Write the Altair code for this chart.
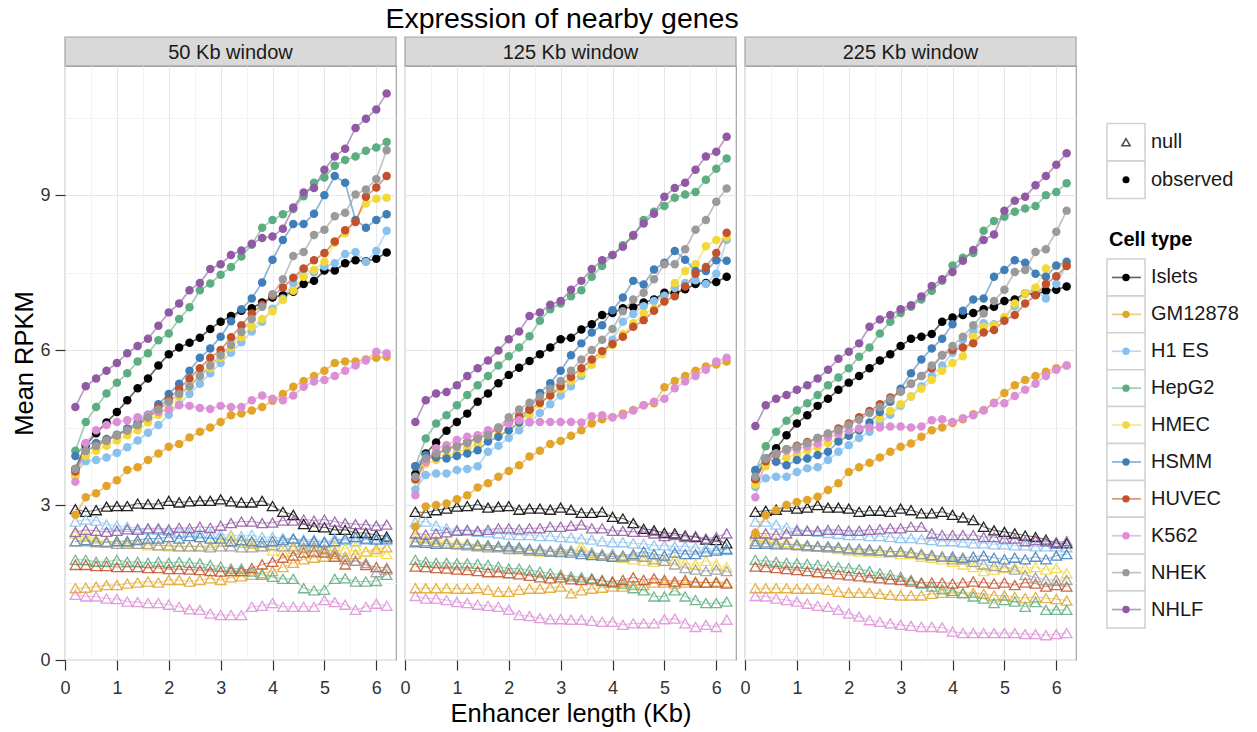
import altair as alt
import pandas as pd

FONT = "Liberation Sans"

X_KB = [0.2, 0.4, 0.6, 0.8, 1.0, 1.2, 1.4, 1.6, 1.8, 2.0, 2.2, 2.4, 2.6, 2.8, 3.0, 3.2,
        3.4, 3.6, 3.8, 4.0, 4.2, 4.4, 4.6, 4.8, 5.0, 5.2, 5.4, 5.6, 5.8, 6.0, 6.2]
CELLS = ["Islets", "GM12878", "H1 ES", "HepG2", "HMEC", "HSMM", "HUVEC", "K562", "NHEK", "NHLF"]
COLORS = ["#000000", "#E2A52A", "#88C0EE", "#5DAD82", "#F3D838", "#3F7EB8", "#C1522B",
          "#DC8FD6", "#9A9A9A", "#9158A3"]
PANELS = ["50 Kb window", "125 Kb window", "225 Kb window"]
KINDS = ["null", "observed"]
X_TICKS = [0, 0.5, 1, 1.5, 2, 2.5, 3, 3.5, 4, 4.5, 5, 5.5, 6]
Y_TICKS = [0, 1.5, 3, 4.5, 6, 7.5, 9, 10.5]

# ---------------- 50 Kb window ----------------
OBS_50 = {
    "Islets": [3.7, 4.16, 4.39, 4.6, 4.8, 5.03, 5.26, 5.45, 5.7, 5.92, 6.05, 6.14, 6.24, 6.41, 6.55, 6.66, 6.76, 6.81, 6.92, 7.02, 7.06, 7.13, 7.28, 7.34, 7.54, 7.54, 7.68, 7.74, 7.72, 7.77, 7.89],
    "GM12878": [2.81, 3.15, 3.23, 3.37, 3.48, 3.68, 3.73, 3.87, 4.0, 4.13, 4.18, 4.31, 4.42, 4.5, 4.61, 4.74, 4.77, 4.83, 4.90, 5.02, 5.15, 5.29, 5.4, 5.5, 5.6, 5.75, 5.78, 5.78, 5.82, 5.85, 5.87],
    "H1 ES": [3.6, 3.85, 3.87, 3.92, 4.01, 4.12, 4.25, 4.4, 4.55, 4.75, 4.95, 5.15, 5.35, 5.55, 5.75, 5.95, 6.15, 6.36, 6.55, 6.8, 7.0, 7.3, 7.56, 7.5, 7.62, 7.68, 7.86, 7.90, 7.71, 7.92, 8.31],
    "HepG2": [4.05, 4.61, 4.9, 5.16, 5.37, 5.55, 5.78, 5.94, 6.19, 6.32, 6.60, 6.83, 7.16, 7.29, 7.46, 7.61, 7.81, 8.04, 8.37, 8.52, 8.63, 8.73, 8.98, 9.24, 9.34, 9.57, 9.68, 9.75, 9.86, 9.92, 10.03],
    "HMEC": [3.55, 3.95, 4.05, 4.15, 4.25, 4.35, 4.45, 4.6, 4.75, 4.9, 5.1, 5.3, 5.5, 5.65, 5.85, 6.05, 6.25, 6.45, 6.6, 6.75, 6.97, 7.15, 7.42, 7.55, 7.71, 8.08, 8.26, 8.52, 8.84, 8.93, 8.95],
    "HSMM": [3.95, 4.19, 4.2, 4.28, 4.36, 4.48, 4.6, 4.75, 4.95, 5.15, 5.35, 5.6, 5.85, 6.03, 6.26, 6.56, 6.79, 7.00, 7.31, 7.75, 8.13, 8.44, 8.44, 8.64, 9.00, 9.37, 9.24, 8.52, 8.37, 8.52, 8.63],
    "HUVEC": [3.65, 4.05, 4.15, 4.25, 4.35, 4.45, 4.55, 4.7, 4.9, 5.05, 5.25, 5.45, 5.65, 5.85, 6.0, 6.25, 6.48, 6.71, 6.88, 7.05, 7.21, 7.4, 7.58, 7.74, 7.88, 8.10, 8.32, 8.48, 8.97, 9.15, 9.37],
    "K562": [3.45, 4.2, 4.45, 4.55, 4.61, 4.64, 4.7, 4.74, 4.8, 4.85, 4.93, 4.92, 4.88, 4.86, 4.92, 4.9, 4.9, 5.03, 5.12, 5.06, 5.03, 5.12, 5.29, 5.39, 5.42, 5.5, 5.6, 5.7, 5.8, 5.97, 5.94],
    "NHEK": [3.7, 4.05, 4.15, 4.25, 4.35, 4.45, 4.55, 4.7, 4.85, 5.0, 5.15, 5.3, 5.5, 5.7, 5.9, 6.1, 6.35, 6.6, 6.84, 7.08, 7.37, 7.82, 7.90, 8.23, 8.33, 8.59, 8.66, 9.01, 9.11, 9.31, 9.87],
    "NHLF": [4.9, 5.3, 5.45, 5.6, 5.75, 5.94, 6.08, 6.22, 6.47, 6.73, 6.90, 7.16, 7.30, 7.57, 7.66, 7.84, 7.93, 8.06, 8.17, 8.2, 8.35, 8.76, 9.05, 9.14, 9.49, 9.75, 9.90, 10.30, 10.48, 10.66, 10.97],
}
NULL_50 = {
    "Islets": [2.92, 2.87, 2.9, 2.97, 2.98, 2.98, 3.03, 3.02, 3.02, 3.08, 3.05, 3.07, 3.08, 3.08, 3.11, 3.07, 3.05, 3.05, 3.08, 2.98, 2.87, 2.81, 2.63, 2.58, 2.57, 2.52, 2.52, 2.46, 2.46, 2.42, 2.39],
    "GM12878": [1.39, 1.4, 1.42, 1.45, 1.45, 1.48, 1.5, 1.52, 1.5, 1.55, 1.55, 1.52, 1.55, 1.58, 1.55, 1.6, 1.62, 1.65, 1.68, 1.72, 1.8, 1.88, 1.95, 1.98, 2.0, 2.05, 2.0, 2.05, 2.1, 2.15, 2.18],
    "H1 ES": [2.68, 2.72, 2.7, 2.62, 2.6, 2.58, 2.55, 2.53, 2.52, 2.5, 2.48, 2.47, 2.45, 2.45, 2.43, 2.42, 2.4, 2.42, 2.38, 2.38, 2.36, 2.35, 2.33, 2.33, 2.3, 2.35, 2.32, 2.3, 2.33, 2.35, 2.32],
    "HepG2": [1.94, 1.94, 1.90, 1.90, 1.94, 1.90, 1.90, 1.88, 1.90, 1.88, 1.90, 1.88, 1.87, 1.84, 1.81, 1.77, 1.77, 1.71, 1.65, 1.61, 1.57, 1.57, 1.39, 1.35, 1.36, 1.57, 1.58, 1.52, 1.52, 1.53, 1.65],
    "HMEC": [2.45, 2.4, 2.35, 2.3, 2.3, 2.28, 2.25, 2.22, 2.22, 2.2, 2.2, 2.2, 2.2, 2.22, 2.3, 2.4, 2.3, 2.25, 2.2, 2.12, 2.1, 2.15, 2.15, 2.2, 2.15, 2.2, 2.15, 2.2, 2.1, 2.1, 2.05],
    "HSMM": [2.3, 2.32, 2.3, 2.28, 2.3, 2.3, 2.32, 2.35, 2.35, 2.38, 2.35, 2.4, 2.38, 2.35, 2.35, 2.3, 2.32, 2.3, 2.28, 2.3, 2.32, 2.35, 2.3, 2.3, 2.28, 2.3, 2.35, 2.38, 2.35, 2.33, 2.35],
    "HUVEC": [1.84, 1.84, 1.82, 1.82, 1.80, 1.80, 1.80, 1.78, 1.78, 1.76, 1.76, 1.75, 1.74, 1.72, 1.71, 1.72, 1.72, 1.78, 1.85, 1.9, 1.98, 2.02, 2.08, 2.1, 2.08, 2.0, 1.85, 1.92, 1.84, 1.8, 1.78],
    "K562": [1.26, 1.23, 1.23, 1.19, 1.18, 1.13, 1.12, 1.10, 1.10, 1.07, 1.03, 0.98, 0.97, 0.90, 0.87, 0.87, 0.87, 1.03, 1.05, 1.10, 1.03, 1.03, 1.03, 1.03, 1.16, 1.12, 1.07, 0.97, 1.03, 1.09, 1.05],
    "NHEK": [2.3, 2.3, 2.28, 2.28, 2.25, 2.25, 2.25, 2.25, 2.22, 2.22, 2.2, 2.2, 2.2, 2.18, 2.2, 2.2, 2.18, 2.18, 2.2, 2.22, 2.2, 2.2, 2.18, 2.2, 2.15, 2.1, 1.95, 1.92, 1.88, 1.7, 1.75],
    "NHLF": [2.48, 2.52, 2.5, 2.48, 2.5, 2.53, 2.52, 2.55, 2.55, 2.53, 2.56, 2.55, 2.58, 2.56, 2.6, 2.65, 2.68, 2.68, 2.65, 2.66, 2.7, 2.7, 2.72, 2.7, 2.72, 2.68, 2.65, 2.63, 2.62, 2.6, 2.62],
}

# ---------------- 125 Kb window ----------------
OBS_125 = {
    "Islets": [3.6, 4.0, 4.21, 4.44, 4.61, 4.77, 5.0, 5.16, 5.36, 5.52, 5.66, 5.79, 5.92, 6.05, 6.21, 6.24, 6.40, 6.50, 6.68, 6.72, 6.81, 6.83, 6.92, 6.98, 7.11, 7.1, 7.18, 7.28, 7.30, 7.32, 7.42],
    "GM12878": [2.58, 2.97, 3.0, 3.03, 3.11, 3.19, 3.34, 3.42, 3.55, 3.66, 3.77, 3.94, 4.05, 4.18, 4.24, 4.34, 4.45, 4.58, 4.66, 4.70, 4.77, 4.84, 4.93, 4.97, 5.28, 5.4, 5.5, 5.6, 5.68, 5.72, 5.78],
    "H1 ES": [3.3, 3.58, 3.61, 3.61, 3.68, 3.7, 3.75, 4.03, 4.15, 4.3, 4.45, 4.6, 4.78, 4.95, 5.12, 5.3, 5.5, 5.72, 5.95, 6.2, 6.55, 6.7, 6.85, 6.95, 7.05, 7.2, 7.3, 7.35, 7.28, 7.48, 8.13],
    "HepG2": [3.75, 4.29, 4.58, 4.74, 4.93, 5.13, 5.32, 5.5, 5.7, 5.88, 6.05, 6.27, 6.57, 6.79, 6.9, 7.04, 7.16, 7.42, 7.63, 7.84, 8.03, 8.21, 8.52, 8.68, 8.79, 8.95, 9.01, 9.06, 9.30, 9.51, 9.71],
    "HMEC": [3.48, 3.8, 3.87, 3.95, 4.02, 4.1, 4.18, 4.26, 4.35, 4.45, 4.58, 4.75, 4.95, 5.12, 5.25, 5.4, 5.55, 5.72, 5.92, 6.1, 6.31, 6.52, 6.71, 6.8, 6.95, 7.30, 7.53, 7.66, 8.01, 8.13, 8.19],
    "HSMM": [3.75, 3.97, 3.92, 3.9, 3.95, 4.0, 4.06, 4.23, 4.32, 4.45, 4.6, 4.85, 5.17, 5.36, 5.6, 5.9, 6.13, 6.34, 6.48, 6.77, 7.02, 7.34, 7.27, 7.56, 7.69, 7.92, 7.75, 7.53, 7.53, 7.74, 7.73],
    "HUVEC": [3.5, 3.85, 3.98, 4.08, 4.15, 4.22, 4.3, 4.38, 4.48, 4.6, 4.72, 4.85, 4.98, 5.12, 5.3, 5.48, 5.65, 5.82, 5.98, 6.12, 6.26, 6.45, 6.58, 6.76, 6.94, 7.04, 7.23, 7.48, 7.61, 7.88, 8.27],
    "K562": [3.19, 3.85, 4.10, 4.16, 4.26, 4.32, 4.35, 4.45, 4.5, 4.58, 4.64, 4.61, 4.61, 4.61, 4.61, 4.61, 4.6, 4.72, 4.74, 4.70, 4.74, 4.83, 4.93, 5.0, 5.06, 5.26, 5.39, 5.5, 5.62, 5.78, 5.85],
    "NHEK": [3.55, 3.9, 4.0, 4.08, 4.13, 4.2, 4.28, 4.35, 4.5, 4.7, 4.85, 4.98, 5.1, 5.25, 5.4, 5.6, 5.82, 6.0, 6.2, 6.41, 6.75, 6.98, 7.11, 7.37, 7.66, 7.66, 7.95, 8.33, 8.52, 8.87, 9.13],
    "NHLF": [4.61, 5.03, 5.16, 5.19, 5.32, 5.5, 5.65, 5.8, 5.99, 6.21, 6.36, 6.66, 6.73, 6.88, 6.95, 7.17, 7.34, 7.57, 7.74, 7.84, 8.0, 8.23, 8.45, 8.64, 8.97, 9.14, 9.24, 9.49, 9.75, 9.84, 10.13],
}
NULL_125 = {
    "Islets": [2.87, 2.85, 2.90, 2.93, 2.97, 2.98, 3.01, 2.95, 2.97, 2.98, 2.91, 2.93, 2.93, 2.91, 2.95, 2.91, 2.85, 2.85, 2.87, 2.77, 2.74, 2.65, 2.54, 2.51, 2.46, 2.45, 2.41, 2.38, 2.33, 2.32, 2.26],
    "GM12878": [1.39, 1.39, 1.39, 1.39, 1.38, 1.38, 1.39, 1.36, 1.32, 1.32, 1.36, 1.38, 1.38, 1.4, 1.42, 1.29, 1.35, 1.38, 1.4, 1.42, 1.42, 1.45, 1.45, 1.5, 1.5, 1.48, 1.5, 1.52, 1.5, 1.52, 1.5],
    "H1 ES": [2.67, 2.68, 2.6, 2.55, 2.52, 2.5, 2.48, 2.47, 2.45, 2.43, 2.42, 2.42, 2.4, 2.4, 2.38, 2.37, 2.35, 2.33, 2.3, 2.28, 2.28, 2.26, 2.25, 2.22, 2.22, 2.2, 2.2, 2.18, 2.16, 2.15, 2.13],
    "HepG2": [1.94, 1.90, 1.88, 1.88, 1.87, 1.87, 1.86, 1.84, 1.81, 1.77, 1.77, 1.74, 1.71, 1.68, 1.65, 1.62, 1.6, 1.58, 1.55, 1.5, 1.48, 1.39, 1.35, 1.23, 1.23, 1.35, 1.23, 1.16, 1.10, 1.10, 1.13],
    "HMEC": [2.38, 2.35, 2.32, 2.3, 2.28, 2.26, 2.24, 2.22, 2.2, 2.18, 2.15, 2.12, 2.1, 2.1, 2.08, 2.12, 2.2, 2.05, 2.02, 2.0, 1.98, 1.95, 1.92, 1.9, 1.92, 1.95, 1.88, 1.85, 1.92, 1.85, 1.8],
    "HSMM": [2.28, 2.27, 2.25, 2.25, 2.24, 2.24, 2.22, 2.22, 2.2, 2.2, 2.18, 2.15, 2.12, 2.1, 2.1, 2.08, 2.05, 2.03, 2.02, 2.0, 2.02, 2.05, 2.1, 2.05, 2.02, 2.08, 2.05, 2.05, 2.1, 2.12, 2.15],
    "HUVEC": [1.81, 1.8, 1.78, 1.77, 1.75, 1.74, 1.72, 1.7, 1.7, 1.68, 1.66, 1.63, 1.6, 1.58, 1.6, 1.56, 1.55, 1.56, 1.53, 1.52, 1.55, 1.6, 1.55, 1.58, 1.55, 1.52, 1.55, 1.5, 1.5, 1.5, 1.48],
    "K562": [1.24, 1.19, 1.19, 1.16, 1.12, 1.10, 1.07, 1.05, 1.03, 0.97, 0.87, 0.85, 0.81, 0.79, 0.79, 0.78, 0.78, 0.76, 0.74, 0.74, 0.68, 0.71, 0.71, 0.71, 0.79, 0.80, 0.71, 0.64, 0.68, 0.64, 0.78],
    "NHEK": [2.3, 2.3, 2.28, 2.26, 2.25, 2.22, 2.2, 2.18, 2.18, 2.15, 2.15, 2.12, 2.15, 2.12, 2.15, 2.12, 2.1, 2.08, 2.05, 2.05, 2.0, 2.02, 2.0, 1.95, 1.92, 1.85, 1.78, 1.75, 1.72, 1.75, 1.72],
    "NHLF": [2.45, 2.43, 2.45, 2.47, 2.5, 2.52, 2.5, 2.52, 2.55, 2.55, 2.53, 2.55, 2.55, 2.58, 2.58, 2.6, 2.62, 2.55, 2.55, 2.5, 2.5, 2.48, 2.48, 2.45, 2.4, 2.42, 2.38, 2.4, 2.35, 2.38, 2.45],
}

# ---------------- 225 Kb window ----------------
OBS_225 = {
    "Islets": [3.5, 3.9, 4.10, 4.35, 4.58, 4.74, 4.92, 5.06, 5.23, 5.37, 5.5, 5.65, 5.8, 5.92, 6.08, 6.22, 6.26, 6.31, 6.55, 6.63, 6.68, 6.72, 6.79, 6.84, 6.95, 6.98, 7.10, 7.07, 7.15, 7.17, 7.23],
    "GM12878": [2.46, 2.8, 2.90, 3.0, 3.06, 3.1, 3.16, 3.29, 3.42, 3.64, 3.73, 3.82, 3.92, 4.03, 4.13, 4.19, 4.32, 4.45, 4.50, 4.59, 4.66, 4.76, 4.84, 4.98, 5.17, 5.32, 5.42, 5.5, 5.58, 5.65, 5.7],
    "H1 ES": [3.35, 3.52, 3.55, 3.55, 3.64, 3.71, 3.73, 3.87, 4.03, 4.16, 4.3, 4.42, 4.58, 4.75, 4.92, 5.1, 5.3, 5.5, 5.7, 5.95, 6.2, 6.38, 6.52, 6.5, 6.62, 6.85, 7.1, 7.15, 7.0, 7.28, 7.64],
    "HepG2": [3.66, 4.14, 4.42, 4.63, 4.83, 4.97, 5.13, 5.32, 5.47, 5.65, 5.87, 6.05, 6.32, 6.55, 6.72, 6.84, 6.98, 7.15, 7.34, 7.64, 7.79, 7.88, 8.31, 8.50, 8.58, 8.68, 8.74, 8.79, 9.00, 9.06, 9.23],
    "HMEC": [3.4, 3.75, 3.85, 3.92, 3.98, 4.05, 4.12, 4.2, 4.28, 4.35, 4.45, 4.55, 4.68, 4.82, 4.95, 5.1, 5.25, 5.42, 5.6, 5.75, 5.88, 6.26, 6.45, 6.48, 6.64, 6.9, 7.10, 7.21, 7.58, 7.63, 7.66],
    "HSMM": [3.68, 3.9, 3.84, 3.77, 3.87, 3.9, 3.97, 4.03, 4.23, 4.34, 4.45, 4.6, 4.8, 5.0, 5.25, 5.55, 5.82, 6.03, 6.22, 6.50, 6.76, 6.98, 7.0, 7.42, 7.55, 7.74, 7.69, 7.48, 7.42, 7.64, 7.71],
    "HUVEC": [3.5, 3.85, 3.98, 4.08, 4.15, 4.22, 4.3, 4.38, 4.48, 4.58, 4.7, 4.82, 4.95, 5.08, 5.2, 5.35, 5.5, 5.65, 5.9, 6.0, 6.05, 6.13, 6.34, 6.39, 6.57, 6.68, 6.90, 7.06, 7.28, 7.43, 7.63],
    "K562": [3.15, 3.9, 4.0, 4.05, 4.08, 4.14, 4.19, 4.31, 4.38, 4.45, 4.48, 4.5, 4.5, 4.52, 4.52, 4.5, 4.52, 4.64, 4.66, 4.61, 4.68, 4.74, 4.83, 4.97, 4.97, 5.11, 5.23, 5.35, 5.5, 5.62, 5.7],
    "NHEK": [3.55, 3.9, 4.0, 4.08, 4.13, 4.2, 4.3, 4.38, 4.45, 4.55, 4.65, 4.78, 4.9, 5.05, 5.2, 5.35, 5.5, 5.7, 5.9, 6.08, 6.26, 6.48, 6.71, 6.95, 7.17, 7.51, 7.55, 7.9, 7.95, 8.29, 8.70],
    "NHLF": [4.53, 4.93, 5.06, 5.13, 5.23, 5.32, 5.45, 5.62, 5.83, 5.97, 6.13, 6.45, 6.59, 6.68, 6.79, 6.87, 7.04, 7.24, 7.37, 7.51, 7.73, 7.94, 8.13, 8.24, 8.70, 8.89, 8.97, 9.19, 9.37, 9.59, 9.81],
}
NULL_225 = {
    "Islets": [2.87, 2.89, 2.91, 2.97, 2.93, 2.95, 3.00, 2.95, 2.95, 2.93, 2.87, 2.89, 2.89, 2.87, 2.93, 2.90, 2.84, 2.84, 2.87, 2.81, 2.76, 2.71, 2.58, 2.51, 2.48, 2.45, 2.41, 2.38, 2.33, 2.26, 2.26],
    "GM12878": [1.39, 1.39, 1.39, 1.39, 1.38, 1.38, 1.38, 1.36, 1.32, 1.3, 1.3, 1.3, 1.28, 1.26, 1.25, 1.25, 1.25, 1.28, 1.3, 1.3, 1.3, 1.3, 1.28, 1.25, 1.25, 1.22, 1.2, 1.22, 1.2, 1.18, 1.15],
    "H1 ES": [2.68, 2.68, 2.62, 2.57, 2.53, 2.5, 2.48, 2.46, 2.44, 2.42, 2.42, 2.4, 2.4, 2.38, 2.36, 2.36, 2.34, 2.32, 2.3, 2.3, 2.28, 2.26, 2.26, 2.24, 2.24, 2.22, 2.22, 2.2, 2.2, 2.2, 2.18],
    "HepG2": [1.94, 1.92, 1.90, 1.88, 1.87, 1.86, 1.84, 1.82, 1.80, 1.78, 1.76, 1.72, 1.68, 1.65, 1.61, 1.55, 1.48, 1.42, 1.37, 1.34, 1.29, 1.23, 1.19, 1.10, 1.16, 1.13, 1.03, 1.12, 0.97, 0.97, 0.97],
    "HMEC": [2.4, 2.35, 2.3, 2.28, 2.25, 2.22, 2.2, 2.18, 2.15, 2.12, 2.1, 2.1, 2.08, 2.08, 2.05, 2.05, 2.0, 1.98, 1.95, 1.9, 1.85, 1.8, 1.72, 1.75, 1.78, 1.8, 1.78, 1.8, 1.75, 1.78, 1.68],
    "HSMM": [2.25, 2.25, 2.24, 2.24, 2.23, 2.22, 2.2, 2.2, 2.18, 2.16, 2.15, 2.14, 2.12, 2.1, 2.1, 2.08, 2.05, 2.03, 2.0, 2.0, 1.98, 2.0, 2.02, 1.98, 1.95, 1.98, 1.95, 2.0, 1.95, 2.02, 2.05],
    "HUVEC": [1.81, 1.8, 1.78, 1.76, 1.74, 1.72, 1.7, 1.68, 1.66, 1.64, 1.62, 1.6, 1.58, 1.56, 1.55, 1.52, 1.5, 1.5, 1.5, 1.48, 1.5, 1.52, 1.5, 1.48, 1.5, 1.45, 1.5, 1.48, 1.42, 1.45, 1.42],
    "K562": [1.24, 1.23, 1.19, 1.16, 1.13, 1.09, 1.05, 1.03, 0.97, 0.90, 0.84, 0.77, 0.74, 0.71, 0.68, 0.66, 0.64, 0.64, 0.63, 0.55, 0.52, 0.52, 0.52, 0.52, 0.52, 0.52, 0.50, 0.50, 0.48, 0.50, 0.52],
    "NHEK": [2.3, 2.28, 2.26, 2.25, 2.22, 2.2, 2.2, 2.18, 2.18, 2.15, 2.14, 2.12, 2.12, 2.1, 2.1, 2.08, 2.05, 2.02, 2.0, 1.95, 1.95, 1.9, 1.85, 1.82, 1.8, 1.75, 1.65, 1.6, 1.55, 1.55, 1.55],
    "NHLF": [2.45, 2.45, 2.43, 2.45, 2.5, 2.5, 2.5, 2.52, 2.52, 2.5, 2.5, 2.52, 2.53, 2.55, 2.55, 2.58, 2.58, 2.45, 2.42, 2.42, 2.42, 2.42, 2.38, 2.38, 2.35, 2.35, 2.3, 2.32, 2.3, 2.28, 2.3],
}

PANEL_DATA = [(OBS_50, NULL_50), (OBS_125, NULL_125), (OBS_225, NULL_225)]

PW, PH, SH = 331, 594, 29
BORDER = "#A3A3A3"
TEXT = "#1A1A1A"


def frame(obs, null):
    rows = []
    for kind, table in (("null", null), ("observed", obs)):
        for cell in CELLS:
            vals = table[cell]
            assert len(vals) == len(X_KB), (kind, cell, len(vals))
            for x, v in zip(X_KB, vals):
                rows.append({"x": x, "value": v, "cell": cell, "kind": kind})
    return pd.DataFrame(rows)


def grid_color(test):
    return {"condition": {"test": test, "value": "#F3F3F3"}, "value": "#E6E6E6"}


def tick_opacity(test):
    return {"condition": {"test": test, "value": 0}, "value": 1}


def panel(i):
    df = frame(*PANEL_DATA[i])
    half_x = "datum.value % 1 !== 0"
    half_y = "datum.value % 3 !== 0"
    x_axis = alt.Axis(
        values=X_TICKS, labelExpr="datum.value % 1 === 0 ? format(datum.value, 'd') : ''",
        title="Enhancer length (Kb)" if i == 1 else "", grid=True,
        gridColor=grid_color(half_x), gridWidth=1, tickOpacity=tick_opacity(half_x),
        domain=False, tickSize=10, tickColor="#333333", tickWidth=1.2,
        labelFontSize=18, labelColor="#333333", labelPadding=9, labelFont=FONT,
        labelFlush=False, labelOverlap=False,
        titleFontSize=25.5, titleFont=FONT, titleFontWeight="normal", titleColor="#000000",
        titlePadding=4,
    )
    if i == 0:
        y_axis = alt.Axis(
            values=Y_TICKS, labelExpr="datum.value % 3 === 0 ? format(datum.value, 'd') : ''",
            title="Mean RPKM", grid=True, gridColor=grid_color(half_y), gridWidth=1,
            tickOpacity=tick_opacity(half_y), domain=False, tickSize=10,
            tickColor="#333333", tickWidth=1.2, labelFontSize=18, labelColor="#333333",
            labelPadding=5, labelFont=FONT, labelFlush=False, labelOverlap=False,
            titleFontSize=25.5, titleFont=FONT, titleFontWeight="normal",
            titleColor="#000000", titlePadding=2,
        )
    else:
        y_axis = alt.Axis(
            values=Y_TICKS, labels=False, ticks=False, domain=False, title="",
            grid=True, gridColor=grid_color(half_y), gridWidth=1,
        )
    xe = alt.X("x:Q", scale=alt.Scale(domain=[0, 6.38], nice=False, zero=False), axis=x_axis)
    ye = alt.Y("value:Q", scale=alt.Scale(domain=[0, 11.5], nice=False, zero=False), axis=y_axis)
    ce = alt.Color("cell:N", scale=alt.Scale(domain=CELLS, range=COLORS), legend=None)
    base = alt.Chart(df).encode(x=xe, y=ye, color=ce)
    nb = base.transform_filter(alt.datum.kind == "null")
    ob = base.transform_filter(alt.datum.kind == "observed")
    return alt.layer(
        nb.mark_line(strokeWidth=1.1, opacity=0.55),
        nb.mark_point(shape="triangle-up", filled=False, size=110, strokeWidth=1.3, opacity=0.85),
        ob.mark_line(strokeWidth=1.7, opacity=0.6),
        ob.mark_circle(size=72, opacity=1),
    ).properties(width=PW, height=PH, view=alt.ViewBackground(stroke=BORDER, strokeWidth=1.2))


def strip(i):
    sdf = pd.DataFrame({"label": [PANELS[i]]})
    sb = alt.Chart(sdf)
    return alt.layer(
        sb.mark_rect(fill="#D9D9D9", stroke=BORDER, strokeWidth=1.2).encode(
            x=alt.value(0), x2=alt.value(PW), y=alt.value(0), y2=alt.value(SH)),
        sb.mark_text(fontSize=20, font=FONT, color=TEXT, baseline="alphabetic").encode(
            x=alt.value(PW / 2), y=alt.value(22.3), text="label:N"),
    ).properties(width=PW, height=SH)


LX = 27  # legend key left offset inside the legend column


def legend_column():
    LW = 165
    spacer = alt.Chart(pd.DataFrame({"k": [0]})).mark_rect(opacity=0).encode(
        x=alt.value(0), x2=alt.value(5), y=alt.value(0), y2=alt.value(5)
    ).properties(width=LW, height=25.5)

    kdf = pd.DataFrame({"kind": KINDS})
    ky = alt.Y("kind:N", sort=KINDS, axis=None,
               scale=alt.Scale(domain=KINDS, paddingInner=0, paddingOuter=0))
    kyc = alt.Y("kind:N", sort=KINDS, axis=None, bandPosition=0.5)
    kb = alt.Chart(kdf)
    shape_leg = alt.layer(
        kb.mark_rect(fill="white", stroke="#D0D0D0", strokeWidth=1.5).encode(
            y=ky, x=alt.value(LX), x2=alt.value(LX + 38)),
        kb.transform_filter(alt.datum.kind == "null").mark_point(
            shape="triangle-up", filled=False, size=70, strokeWidth=1.5, color="#000000"
        ).encode(y=kyc, x=alt.value(LX + 19)),
        kb.transform_filter(alt.datum.kind == "observed").mark_circle(
            size=50, color="#000000", opacity=1
        ).encode(y=kyc, x=alt.value(LX + 19)),
        kb.mark_text(align="left", fontSize=20, font=FONT, color=TEXT).encode(
            y=kyc, x=alt.value(LX + 44), text="kind:N"),
    ).properties(width=LW, height=75)

    cdf = pd.DataFrame({"cell": CELLS})
    cy = alt.Y("cell:N", sort=CELLS, axis=None,
               scale=alt.Scale(domain=CELLS, paddingInner=0, paddingOuter=0))
    cyc = alt.Y("cell:N", sort=CELLS, axis=None, bandPosition=0.5)
    cc = alt.Color("cell:N", scale=alt.Scale(domain=CELLS, range=COLORS), legend=None)
    cb = alt.Chart(cdf)
    color_leg = alt.layer(
        cb.mark_rect(fill="white", stroke="#D0D0D0", strokeWidth=1.5).encode(
            y=cy, x=alt.value(LX), x2=alt.value(LX + 38)),
        cb.mark_rule(strokeWidth=1.7, opacity=0.6).encode(
            y=cyc, x=alt.value(LX + 5), x2=alt.value(LX + 34), color=cc),
        cb.mark_circle(size=55, opacity=1).encode(y=cyc, x=alt.value(LX + 19), color=cc),
        cb.mark_text(align="left", fontSize=20, font=FONT, color=TEXT).encode(
            y=cyc, x=alt.value(LX + 44), text="cell:N"),
    ).properties(
        width=LW, height=369,
        title=alt.TitleParams("Cell type", anchor="start", fontSize=20, fontWeight="bold",
                              font=FONT, color="#000000", dx=LX + 2, offset=8),
    )
    return alt.vconcat(spacer, shape_leg, color_leg, spacing=60.5, bounds="flush")


cols = [alt.vconcat(strip(i), panel(i), spacing=0, bounds="flush") for i in range(3)]
chart = alt.hconcat(*cols, legend_column(), spacing=1).properties(
    title=alt.TitleParams("Expression of nearby genes", anchor="start", dx=373,
                          fontSize=28.5, font=FONT, fontWeight="normal", color="#000000",
                          offset=2),
    padding={"left": 12, "top": 5, "right": 2, "bottom": 0},
    background="white",
).configure_view(stroke="transparent").configure_text(font=FONT)

chart.save("out.html", embed_options={"renderer": "svg", "actions": False})
